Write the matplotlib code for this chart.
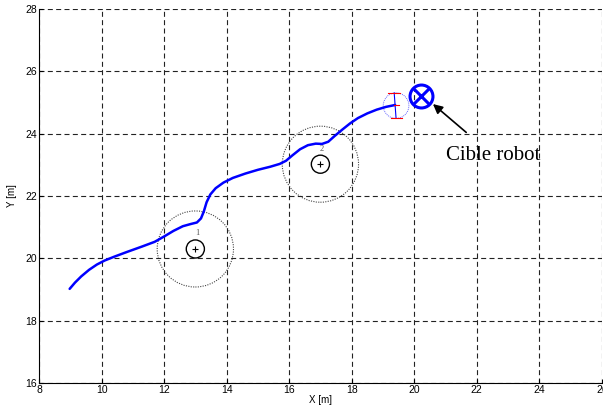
import numpy as np
import matplotlib.pyplot as plt
from matplotlib.patches import Circle

# ====== DATA ======
path_x = [8.98, 9.15, 9.35, 9.6, 9.85, 10.1, 10.4, 10.8, 11.3, 11.7, 12.0, 12.3, 12.6,
          12.85, 13.05, 13.18, 13.27, 13.36, 13.48, 13.65, 13.9, 14.2, 14.6, 15.0, 15.4,
          15.7, 15.9, 16.1, 16.35, 16.6, 16.85, 17.05, 17.25, 17.45, 17.7, 17.95, 18.2,
          18.5, 18.8, 19.1, 19.39]
path_y = [19.02, 19.22, 19.42, 19.63, 19.8, 19.93, 20.05, 20.2, 20.38, 20.53, 20.7, 20.88, 21.03,
          21.1, 21.15, 21.28, 21.5, 21.8, 22.05, 22.25, 22.43, 22.58, 22.72, 22.84, 22.94,
          23.03, 23.13, 23.3, 23.5, 23.63, 23.68, 23.67, 23.74, 23.92, 24.13, 24.33, 24.5,
          24.65, 24.77, 24.86, 24.92]

obst_x = [13.0, 17.0]
obst_y = [20.3, 23.02]
obst_names = ["1", "2"]
obst_radius = 1.22
obst_core = 0.29

target_x, target_y = 20.21, 25.21
robot_x, robot_y = 19.42, 24.9
robot_radius = 0.41
bar_top = (19.36, 25.31)
bar_bot = (19.42, 24.49)

xticks = np.arange(8, 27, 2)
yticks = np.arange(16, 29, 2)

# ====== FIGURE ======
plt.rcParams['font.family'] = ['Liberation Sans', 'DejaVu Sans']
fig = plt.figure(figsize=(6.03, 4.09), dpi=100)
ax = fig.add_axes([0.0647, 0.0636, 0.9333, 0.9144])

ax.set_xlim(8, 26)
ax.set_ylim(16, 28)
ax.set_xticks(xticks)
ax.set_yticks(yticks)
ax.tick_params(labelsize=7.5, direction="in", length=3, width=0.8, pad=1.5)
ax.grid(True, color="#222222", linestyle=(0, (4.5, 3)), linewidth=0.8)
ax.spines["top"].set_visible(False)
ax.spines["right"].set_visible(False)
ax.set_xlabel("X [m]", fontsize=7, labelpad=0)
ax.set_ylabel("Y [m]", fontsize=7, labelpad=6)

# obstacles
for ox, oy, name in zip(obst_x, obst_y, obst_names):
    ax.add_patch(Circle((ox, oy), obst_radius, fill=False, color="#444444",
                        linestyle=(0, (1, 1.2)), linewidth=0.8))
    ax.add_patch(Circle((ox, oy), obst_core, fill=False, color="black", linewidth=1.0))
    ax.plot(ox, oy, "+", color="black", markersize=4, markeredgewidth=0.8)
    ax.text(ox + 0.05, oy + 0.5, name, fontsize=6, color="#555555",
            ha="center", va="center", family="Liberation Serif")

# trajectory
ax.plot(path_x, path_y, color="blue", linewidth=1.8,
        solid_capstyle="round", solid_joinstyle="round")

# robot at end
ax.add_patch(Circle((robot_x, robot_y), robot_radius, fill=False, color="#6666ff",
                    linestyle=(0, (1, 1)), linewidth=0.7))
ax.plot([bar_top[0], bar_bot[0]], [bar_top[1], bar_bot[1]], color="blue", linewidth=0.8)
ax.plot([bar_top[0] - 0.2, bar_top[0] + 0.2], [bar_top[1], bar_top[1]], color="red", linewidth=0.8)
ax.plot([bar_bot[0] - 0.17, bar_bot[0] + 0.2], [bar_bot[1], bar_bot[1]], color="red", linewidth=0.8)
ax.plot([robot_x - 0.08, robot_x + 0.08], [robot_y + 0.02, robot_y + 0.02], color="red", linewidth=0.8)

# target
ax.plot(target_x, target_y, "o", markersize=16.5, markerfacecolor="none",
        markeredgecolor="blue", markeredgewidth=2.2)
ax.plot(target_x, target_y, "x", markersize=11.5, color="blue", markeredgewidth=2.2)

ax.annotate("Cible robot", xy=(20.6, 24.95), xytext=(22.53, 23.3),
            fontsize=15, family="Liberation Serif", ha="center", va="center",
            arrowprops=dict(arrowstyle="-|>", color="black", lw=1.2,
                            mutation_scale=14, shrinkA=12, shrinkB=0))

fig.savefig("out.png", dpi=100)
